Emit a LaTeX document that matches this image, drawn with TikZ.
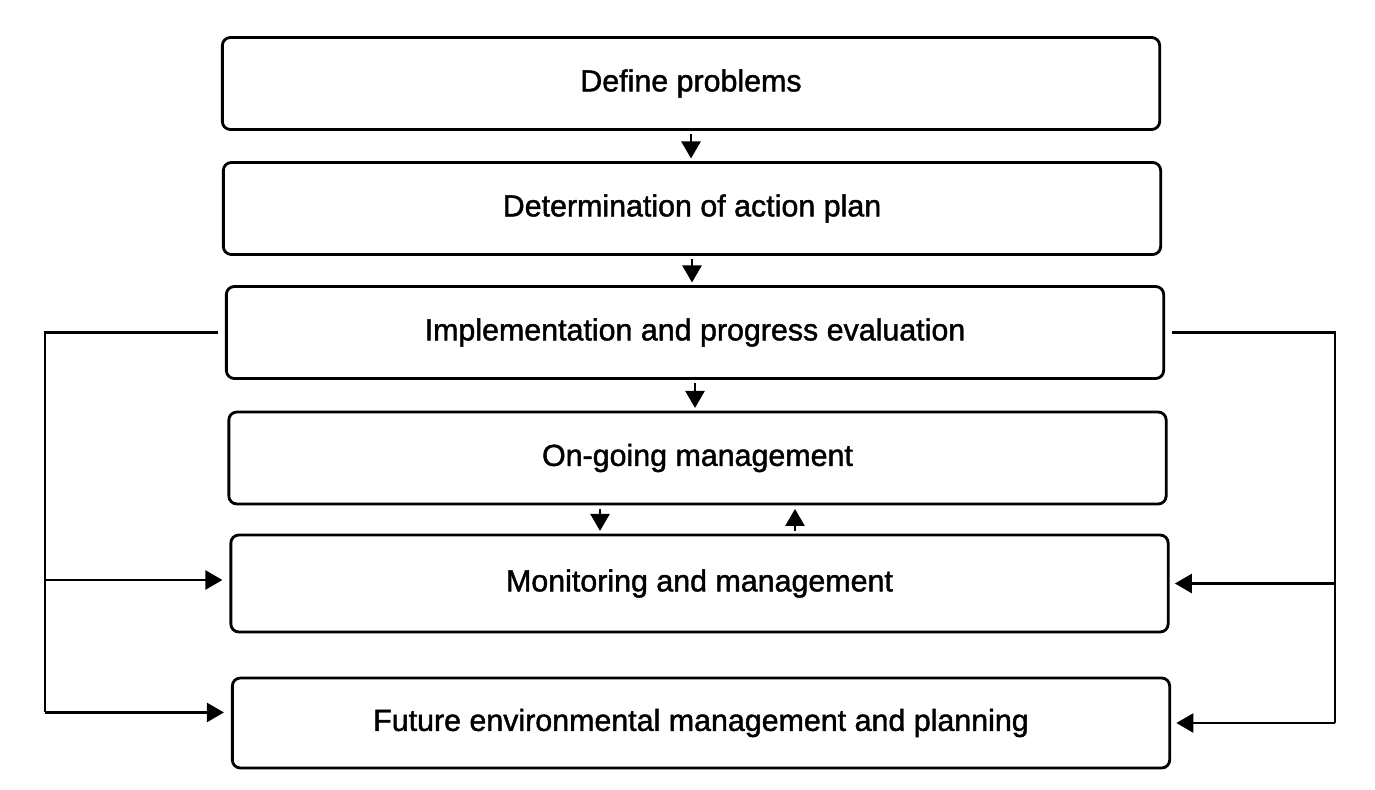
\documentclass[tikz,border=0pt]{standalone}
\usepackage{fontspec}
\setmainfont{Liberation Sans}
\newfontfamily\labelfont{Liberation Sans}[FakeBold=1.4]
\usetikzlibrary{arrows.meta}
\begin{document}
\begin{tikzpicture}[x=0.02cm,y=-0.02cm,
  stage/.style={draw=black, line width=1.6pt, rounded corners=0.16cm,
    minimum width=18.75cm, minimum height=1.84cm, inner sep=0pt,
    font=\labelfont\fontsize{17.3}{20}\selectfont},
  flow/.style={line width=1.4pt, -{Triangle[length=0.34cm,width=0.38cm]}},
  loopline/.style={line width=1.4pt}]
\useasboundingbox (0,0) rectangle (1375,790);
\fill[white] (0,0) rectangle (1375,790);

% stages of the process
\node[stage] (b1) at (691,83.5) {Define problems};
\node[stage] (b2) at (692,208.5) {Determination of action plan};
\node[stage] (b3) at (695,332.5) {Implementation and progress evaluation};
\node[stage] (b4) at (697.5,458) {On-going management};
\node[stage, minimum height=1.94cm] (b5) at (699.5,583.5) {Monitoring and management};
\node[stage, minimum height=1.8cm] (b6) at (701,723) {Future environmental management and planning};

% downward flow
\draw[flow] ([yshift=-2pt]b1.south) -- ([yshift=1.5pt]b1.south |- b2.north);
\draw[flow] ([yshift=-2pt]b2.south) -- ([yshift=1.5pt]b2.south |- b3.north);
\draw[flow] ([yshift=-2pt]b3.south) -- ([yshift=1.5pt]b3.south |- b4.north);

% two-way link between on-going management and monitoring
\coordinate (dn) at (600,0);
\coordinate (up) at (795,0);
\draw[flow] ([yshift=-2pt]b4.south -| dn) -- ([yshift=1.5pt]b5.north -| dn);
\draw[flow] ([yshift=1.5pt]b5.north -| up) -- ([yshift=-2pt]b4.south -| up);

% left feedback loop
\coordinate (L) at (45,0);
\draw[loopline] ([xshift=-4pt]b3.west) -- (L |- b3.west) -- ([yshift=6pt]L |- b6.west);
\draw[flow] ([yshift=2pt]L |- b5.west) -- ([xshift=-4pt,yshift=2pt]b5.west);
\draw[flow] ([yshift=6pt]L |- b6.west) -- ([xshift=-4pt,yshift=6pt]b6.west);

% right feedback loop
\coordinate (R) at (1335,0);
\draw[loopline] ([xshift=4pt]b3.east) -- (R |- b3.east) -- (R |- b6.east);
\draw[flow] (R |- b5.east) -- ([xshift=3pt]b5.east);
\draw[flow] (R |- b6.east) -- ([xshift=3pt]b6.east);
\end{tikzpicture}
\end{document}
